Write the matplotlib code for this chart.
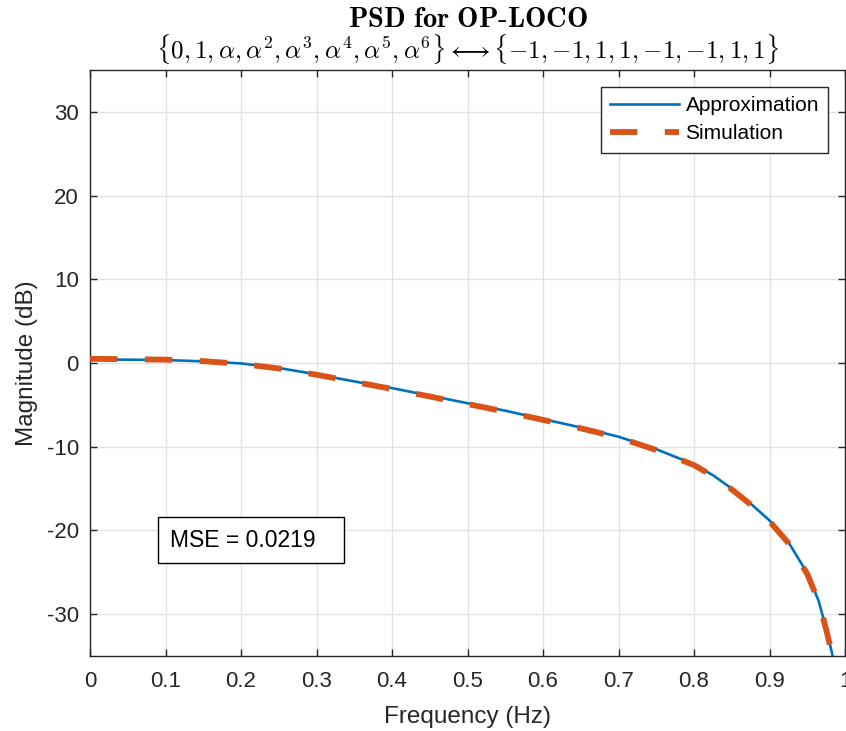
import numpy as np
import matplotlib.pyplot as plt
from matplotlib.patches import Rectangle

plt.rcParams['font.family'] = ['Liberation Sans', 'DejaVu Sans']
plt.rcParams['mathtext.fontset'] = 'cm'
plt.rcParams['axes.unicode_minus'] = False

# values
freq = [0, 0.05, 0.1, 0.15, 0.2, 0.25, 0.3, 0.35, 0.4, 0.45, 0.5, 0.55, 0.6,
        0.65, 0.7, 0.75, 0.8, 0.825, 0.85, 0.875, 0.9, 0.925, 0.95, 0.965,
        0.975, 0.985]
approx = [0.4, 0.4, 0.35, 0.2, -0.05, -0.6, -1.35, -2.2, -3.0, -3.9, -4.8, -5.7,
          -6.7, -7.7, -8.8, -10.3, -12.1, -13.4, -15.0, -16.8, -18.8, -21.4,
          -25.1, -28.4, -31.7, -35.5]
sim = [0.5, 0.45, 0.4, 0.22, -0.1, -0.65, -1.4, -2.25, -3.1, -4.0, -4.9, -5.8,
       -6.8, -7.8, -8.9, -10.4, -12.2, -13.5, -15.1, -16.9, -18.9, -21.5,
       -25.2, -28.5, -31.8, -35.6]
yticks = [-30, -20, -10, 0, 10, 20, 30]
xticks = np.round(np.arange(0, 1.01, 0.1), 1)
mse = 0.0219

dark = '#262626'
blue = '#0072BD'
orange = '#D95319'

fig = plt.figure(figsize=(8.46, 7.31), dpi=100)
ax = fig.add_axes([90 / 846, 1 - 656 / 731, 755 / 846, 586 / 731])

ax.plot(freq, approx, color=blue, lw=1.9, label='Approximation', zorder=3)
ax.plot(freq, sim, color=orange, lw=4.2, dashes=(4.7, 4.7),
        label='Simulation', zorder=4)

ax.set_xlim(0, 1)
ax.set_ylim(-35, 35)
ax.set_xticks(xticks)
ax.set_xticklabels([f'{t:g}' for t in xticks])
ax.set_yticks(yticks)
ax.grid(True, color='#e3e3e3', lw=1.0)
ax.set_axisbelow(True)
ax.tick_params(direction='in', length=5, width=1, colors=dark,
               labelsize=16, top=True, right=True)
ax.tick_params(axis='x', pad=11)
ax.tick_params(axis='y', pad=8)
for s in ax.spines.values():
    s.set_color(dark)
    s.set_linewidth(1.0)

ax.set_xlabel('Frequency (Hz)', fontsize=17.5, color=dark, labelpad=10)
ax.set_ylabel('Magnitude (dB)', fontsize=17.5, color=dark, labelpad=6)

cx = 467.5 / 846
fig.text(cx, 1 - 20 / 731, r'$\mathbf{PSD\ for\ OP}$' + r'$\mathbf{\text{-}LOCO}$',
         ha='center', va='center', fontsize=20.5)
fig.text(cx, 1 - 49 / 731,
         r'$\{0,1,\alpha,\alpha^2,\alpha^3,\alpha^4,\alpha^5,\alpha^6\}'
         r'\longleftrightarrow\{{-}1,{-}1,1,1,{-}1,{-}1,1,1\}$',
         ha='center', va='center', fontsize=18)

leg = ax.legend(loc='upper right', fontsize=15, frameon=True, fancybox=False,
                edgecolor=dark, handlelength=3.3, borderaxespad=0.8,
                labelspacing=0.45, handletextpad=0.3, borderpad=0.45,
                framealpha=1)
leg.get_frame().set_linewidth(1.0)

# MSE text box
ax.add_patch(Rectangle((0.0897, -23.9), 0.2467, 5.5, fc='white', ec='black',
                       lw=1.0, zorder=5))
ax.text(0.106, -21.15, f'MSE = {mse}', ha='left', va='center', fontsize=16.5,
        color='black', zorder=6)

fig.savefig('out.png', dpi=100)
